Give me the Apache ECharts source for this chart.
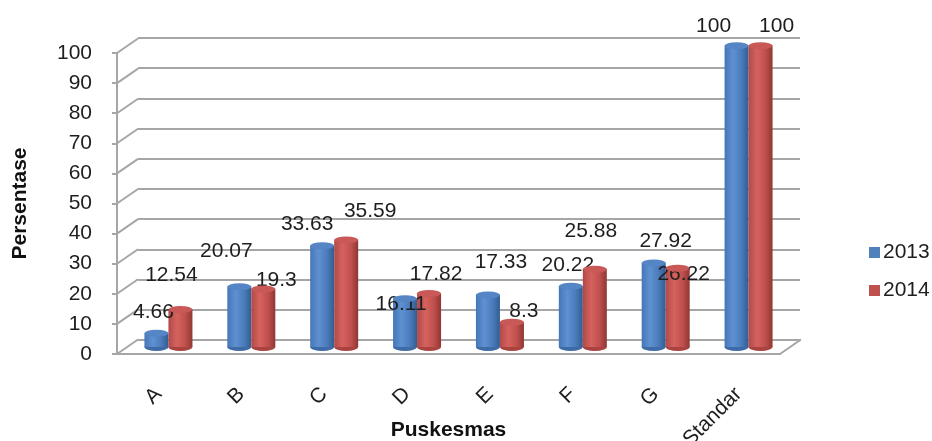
<!DOCTYPE html>
<html>
<head>
<meta charset="utf-8">
<title>Persentase per Puskesmas</title>
<script src="https://cdn.jsdelivr.net/npm/echarts/dist/echarts.min.js"></script>
<style>
  html, body { margin: 0; padding: 0; background: #ffffff; }
  #chart { width: 932px; height: 441px; }
</style>
</head>
<body>
<div id="chart"></div>
<script>
// Puskesmas categories and yearly percentages
const categories = ['A', 'B', 'C', 'D', 'E', 'F', 'G', 'Standar'];
const values2013 = [4.66, 20.07, 33.63, 16.11, 17.33, 20.22, 27.92, 100];
const values2014 = [12.54, 19.3, 35.59, 17.82, 8.3, 25.88, 26.22, 100];
const yTicks = [0, 10, 20, 30, 40, 50, 60, 70, 80, 90, 100];

// label nudges (px) relative to the top of each bar
const labelShift2013 = [[-3, -10], [-13, -25], [-15, -11], [-4, 16], [13, -22], [-3, -10], [12, -11], [-23, -9]];
const labelShift2014 = [[-9, -23], [13, 2], [24, -18], [7, -9], [12, 0], [-4, -27], [6, 17], [16, -9]];

const FONT = '"Liberation Sans", Arial, sans-serif';
const GRID_GRAY = '#a6a6a6';
const DEPTH_X = 21, DEPTH_Y = -14.5;

function cyl(stops) {
  return new echarts.graphic.LinearGradient(0, 0, 1, 0, stops.map((c, i) => ({ offset: [0, 0.35, 0.7, 1][i], color: c })));
}
const blueBody = cyl(['#4576b6', '#5f90d1', '#4a7bbb', '#315d91']);
const redBody = cyl(['#b04a47', '#d6625f', '#c0504d', '#8e3734']);

function barLabels(values, shifts) {
  return values.map((v, i) => ({
    value: v,
    label: { offset: shifts[i] }
  }));
}

const labelStyle = {
  show: true,
  position: 'top',
  distance: 0,
  fontSize: 21,
  fontFamily: FONT,
  color: '#1e1e1e'
};

// a line from a front-edge point back into the depth of the chart
function depthLine(api, side) {
  const p = api.coord([api.value(0), api.value(1)]);
  const half = api.size([1, 0])[0] / 2;
  const x = p[0] + side * half;
  return {
    type: 'line',
    shape: { x1: x, y1: p[1], x2: x + DEPTH_X, y2: p[1] + DEPTH_Y },
    style: { stroke: GRID_GRAY, lineWidth: 2 }
  };
}

const chart = echarts.init(document.getElementById('chart'), null, { renderer: 'canvas' });

chart.setOption({
  animation: false,
  backgroundColor: '#ffffff',
  grid: [
    // back wall
    { left: 138, right: 132, top: 38, bottom: 101, outerBoundsMode: 'none', containLabel: false },
    // front edge (axes, floor edge)
    { left: 117, right: 152, top: 53, bottom: 87, outerBoundsMode: 'none', containLabel: false },
    // bar plane
    { left: 127, right: 142, top: 45.5, bottom: 94, outerBoundsMode: 'none', containLabel: false }
  ],
  legend: {
    orient: 'vertical',
    left: 864,
    top: 237,
    itemWidth: 11,
    itemHeight: 11,
    itemGap: 17,
    icon: 'rect',
    textStyle: { fontSize: 21, fontFamily: FONT, color: '#1e1e1e', padding: [0, 0, 0, -2] },
    data: [
      { name: '2013', itemStyle: { color: '#4f81bd' } },
      { name: '2014', itemStyle: { color: '#c0504d' } }
    ]
  },
  xAxis: [
    { gridIndex: 0, type: 'category', data: categories, show: false },
    {
      gridIndex: 1, type: 'category', data: categories,
      axisLine: { show: true, lineStyle: { color: GRID_GRAY, width: 2 } },
      axisTick: { show: false }, splitLine: { show: false },
      axisLabel: { interval: 0, rotate: 45, margin: 37, fontSize: 21, fontFamily: FONT, color: '#1e1e1e' },
      name: 'Puskesmas', nameLocation: 'middle', nameGap: 66, nameMoveOverlap: false,
      nameTextStyle: { fontSize: 21, fontWeight: 'bold', fontFamily: FONT, color: '#111' }
    },
    { gridIndex: 2, type: 'category', data: categories, show: false }
  ],
  yAxis: [
    {
      gridIndex: 0, type: 'value', min: 0, max: 100, interval: 10,
      axisLine: { show: false }, axisTick: { show: false }, axisLabel: { show: false },
      splitLine: { show: true, lineStyle: { color: GRID_GRAY, width: 2 } }
    },
    {
      gridIndex: 1, type: 'value', min: 0, max: 100, interval: 10,
      axisLine: { show: true, lineStyle: { color: GRID_GRAY, width: 2 } },
      axisTick: { show: true, length: 5, lineStyle: { color: GRID_GRAY, width: 2 } },
      axisLabel: { margin: 25, fontSize: 21, fontFamily: FONT, color: '#1e1e1e' },
      splitLine: { show: false },
      name: 'Persentase', nameLocation: 'middle', nameGap: 86, nameRotate: 90, nameMoveOverlap: false,
      nameTextStyle: { fontSize: 21, fontWeight: 'bold', fontFamily: FONT, color: '#111' }
    },
    { gridIndex: 2, type: 'value', min: 0, max: 100, show: false }
  ],
  series: [
    // depth lines joining the front axis ticks to the back wall
    {
      type: 'custom', xAxisIndex: 1, yAxisIndex: 1, silent: true,
      data: yTicks.map(v => [0, v]),
      renderItem: function (params, api) { return depthLine(api, -1); }
    },
    // right edge of the floor
    {
      type: 'custom', xAxisIndex: 1, yAxisIndex: 1, silent: true,
      data: [[categories.length - 1, 0]],
      renderItem: function (params, api) { return depthLine(api, 1); }
    },
    // cylinder bases
    {
      type: 'pictorialBar', xAxisIndex: 2, yAxisIndex: 2, silent: true, z: 1,
      data: values2013, symbol: 'circle', symbolSize: [24, 8], symbolPosition: 'start',
      symbolOffset: ['-50%', '50%'], itemStyle: { color: '#3e6ba6' }
    },
    {
      type: 'pictorialBar', xAxisIndex: 2, yAxisIndex: 2, silent: true, z: 1,
      data: values2014, symbol: 'circle', symbolSize: [24, 8], symbolPosition: 'start',
      symbolOffset: ['50%', '50%'], itemStyle: { color: '#a9433f' }
    },
    // cylinder bodies
    {
      name: '2013', type: 'bar', xAxisIndex: 2, yAxisIndex: 2,
      barWidth: 24, barGap: 0, z: 2,
      itemStyle: { color: blueBody },
      label: labelStyle,
      data: barLabels(values2013, labelShift2013)
    },
    {
      name: '2014', type: 'bar', xAxisIndex: 2, yAxisIndex: 2,
      barWidth: 24, barGap: 0, z: 2,
      itemStyle: { color: redBody },
      label: labelStyle,
      data: barLabels(values2014, labelShift2014)
    },
    // cylinder tops
    {
      type: 'pictorialBar', xAxisIndex: 2, yAxisIndex: 2, silent: true, z: 3,
      data: values2013, symbol: 'circle', symbolSize: [24, 7], symbolPosition: 'end',
      symbolOffset: ['-50%', '-50%'],
      itemStyle: { color: '#5585c4', borderColor: '#4374b2', borderWidth: 0.8 }
    },
    {
      type: 'pictorialBar', xAxisIndex: 2, yAxisIndex: 2, silent: true, z: 3,
      data: values2014, symbol: 'circle', symbolSize: [24, 7], symbolPosition: 'end',
      symbolOffset: ['50%', '-50%'],
      itemStyle: { color: '#c95956', borderColor: '#ad4643', borderWidth: 0.8 }
    }
  ]
});
</script>
</body>
</html>
